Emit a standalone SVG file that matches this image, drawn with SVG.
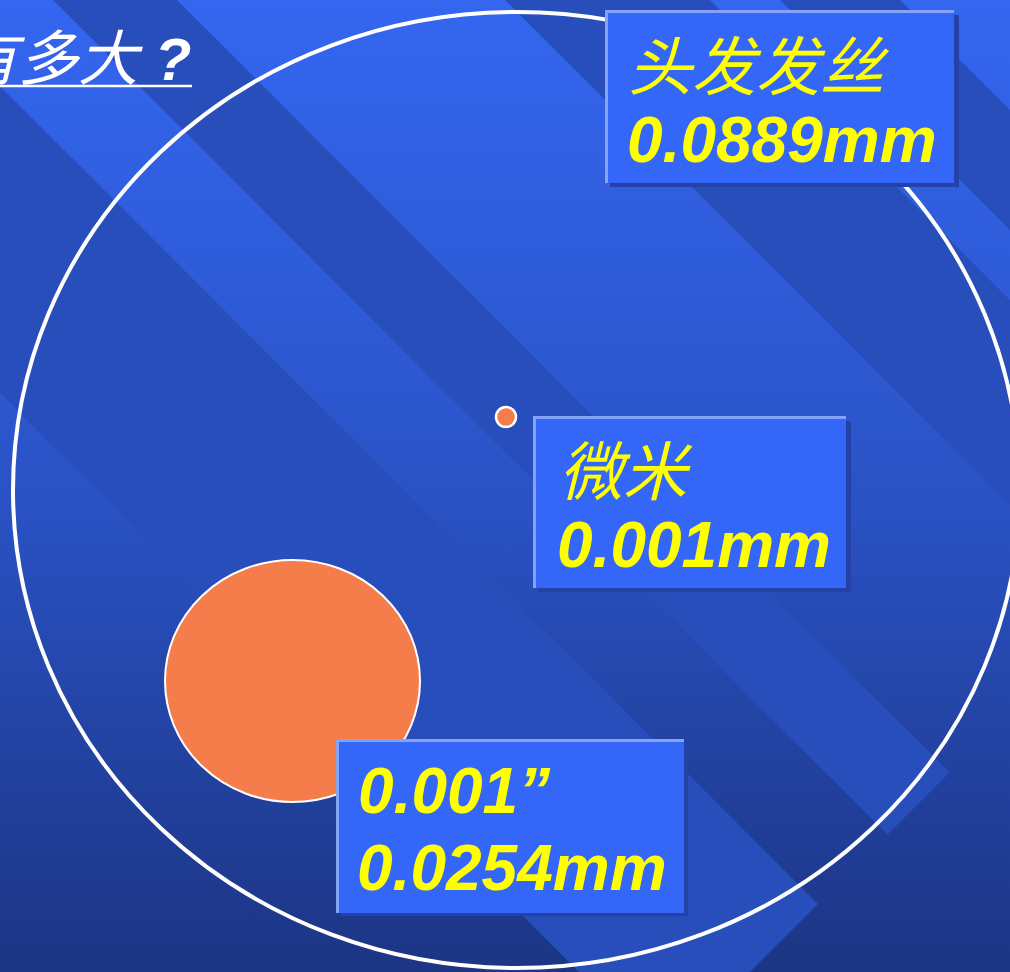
<svg xmlns="http://www.w3.org/2000/svg" width="1010" height="972" viewBox="0 0 1010 972">
  <defs>
    <linearGradient id="bg" x1="0" y1="0" x2="0" y2="1">
      <stop offset="0" stop-color="#3466f0"/>
      <stop offset="0.5" stop-color="#2a53c6"/>
      <stop offset="1" stop-color="#1c3584"/>
    </linearGradient>
    <style>
      .stripe { fill: #274ebb; }
      .box { fill: #3466f8; }
      .shadow { fill: #2341a6; }
      .hl { fill: none; stroke: #86a2f8; stroke-width: 3; }
      .cjk { font-family: "Noto Sans CJK SC", sans-serif; font-style: italic; fill: #ffff00; font-size: 64px; }
      .num { font-family: "Liberation Sans", Arial, sans-serif; font-style: italic; font-weight: bold; fill: #ffff00; font-size: 64px; }
      .dot { fill: #f47d4b; stroke: #ffffff; }
    </style>
  </defs>

  <rect x="0" y="0" width="1010" height="972" fill="url(#bg)"/>

  <g id="stripes">
    <polygon class="stripe" points="-496.5,-103.5 -343,-257 818,904 664.5,1057.5"/>
    <polygon class="stripe" points="-273.5,-326.5 -211.5,-388.5 949.5,772.5 887.5,834.5"/>
    <polygon class="stripe" points="-47.5,-552.5 55,-655 1555,845 1452.5,947.5"/>
    <polygon class="stripe" points="90,-690 150,-750 1650,750 1590,810"/>
  </g>

  <g id="title">
    <text y="80" font-size="60" fill="#ffffff"><tspan x="-42" font-family="Noto Sans CJK SC, sans-serif" font-style="italic">有多大</tspan><tspan font-family="Liberation Sans, Arial, sans-serif" font-style="italic" font-weight="bold"> ?</tspan></text>
    <line x1="0" y1="86" x2="192" y2="86" stroke="#ffffff" stroke-width="2.5"/>
  </g>

  <g id="big-circle">
    <ellipse cx="516.5" cy="490" rx="503.5" ry="478" fill="none" stroke="#ffffff" stroke-width="4"/>
  </g>

  <g id="hair-dot">
    <ellipse class="dot" cx="292.5" cy="681" rx="127.5" ry="121" stroke-width="2"/>
  </g>

  <g id="micron-dot">
    <circle class="dot" cx="506" cy="417" r="10" stroke-width="2.5"/>
  </g>

  <g id="box-hair">
    <rect class="shadow" x="610" y="15" width="349" height="172"/>
    <rect class="box" x="605" y="10" width="349" height="173"/>
    <path class="hl" d="M606.5,183 V11.5 H954"/>
    <text class="cjk" x="628" y="90">头发发丝</text>
    <text class="num" x="627" y="162">0.0889mm</text>
  </g>

  <g id="box-micron">
    <rect class="shadow" x="538" y="421" width="313" height="171"/>
    <rect class="box" x="533" y="416" width="313" height="172"/>
    <path class="hl" d="M534.5,588 V417.5 H846"/>
    <text class="cjk" x="559" y="495">微米</text>
    <text class="num" x="557" y="567">0.001mm</text>
  </g>

  <g id="box-inch">
    <rect class="shadow" x="341" y="744" width="347" height="172"/>
    <rect class="box" x="336" y="739" width="348" height="174"/>
    <path class="hl" d="M337.5,913 V740.5 H684"/>
    <text class="num" x="358" y="813">0.001”</text>
    <text class="num" x="357" y="890">0.0254mm</text>
  </g>
</svg>
